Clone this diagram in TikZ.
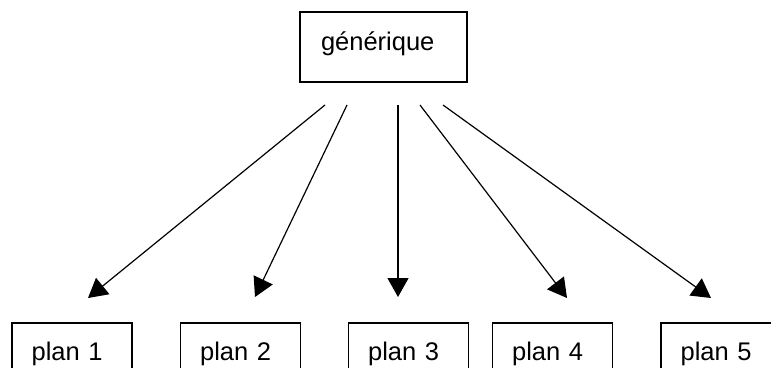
\documentclass[tikz,border=0pt]{standalone}
\usepackage{fontspec}
\setmainfont{Liberation Sans}
\usetikzlibrary{arrows.meta}

\begin{document}
\begin{tikzpicture}[x=1pt, y=-1pt,
  topbox/.style={shape=rectangle, draw=black, line width=1.5pt, minimum height=70pt, text width=125pt, inner xsep=21pt, align=left, font=\fontsize{25.5}{30}\selectfont, text height=19pt, text depth=13pt},
  planbox/.style={shape=rectangle, draw=black, line width=1.5pt, minimum height=61pt, text width=80.8pt, inner xsep=19.6pt, align=left, font=\fontsize{25.5}{30}\selectfont},
  arr/.style={-{Triangle[length=19pt, width=21pt]}, line width=1.2pt, draw=black}]
\useasboundingbox (0,0) rectangle (771,367);
\node[topbox] (gen) at (383.5,47) {générique};
\node[planbox] (p1) at (72,353.5) {plan 1};
\node[planbox] (p2) at (240.5,353.5) {plan 2};
\node[planbox] (p3) at (408.5,353.5) {plan 3};
\node[planbox] (p4) at (552.5,353.5) {plan 4};
\node[planbox] (p5) at (721,353.5) {plan 5};
\coordinate (s1) at (325,105);
\coordinate (s2) at (347,105);
\coordinate (s3) at (398,105);
\coordinate (s4) at (420,105);
\coordinate (s5) at (443,105);
\coordinate (e1) at (88,298);
\coordinate (e2) at (255,297);
\coordinate (e3) at (398,297);
\coordinate (e4) at (567,298);
\coordinate (e5) at (711,298);
\draw[arr] (s1) -- (e1);
\draw[arr] (s2) -- (e2);
\draw[arr] (s3) -- (e3);
\draw[arr] (s4) -- (e4);
\draw[arr] (s5) -- (e5);
\end{tikzpicture}
\end{document}
